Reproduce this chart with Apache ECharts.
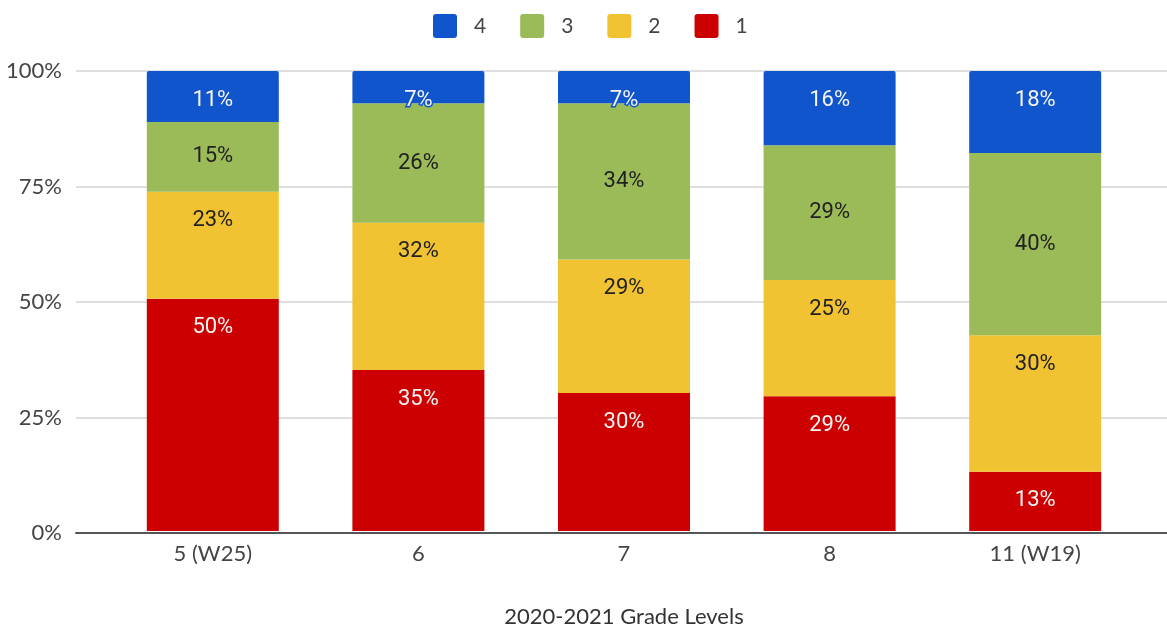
<!DOCTYPE html>
<html>
<head>
<meta charset="utf-8">
<title>2020-2021 Grade Levels</title>
<script src="https://cdn.jsdelivr.net/npm/echarts@6/dist/echarts.min.js"></script>
<style>
  html, body { margin: 0; padding: 0; background: #ffffff; }
  #chart { width: 1167px; height: 633px; }
</style>
</head>
<body>
<div id="chart"></div>
<script>
// Grade levels on the x axis
const categories = ['5 (W25)', '6', '7', '8', '11 (W19)'];

// Percent of students at each performance level, per grade
const level1 = [50, 35, 30, 29, 13];
const level2 = [23, 32, 29, 25, 30];
const level3 = [15, 26, 34, 29, 40];
const level4 = [11, 7, 7, 16, 18];

// Percent axis ticks
const yTicks = [0, 25, 50, 75, 100];

const levels = [
  { name: '1', data: level1, color: '#cc0000', text: '#f4f4f4', pos: 'insideTop' },
  { name: '2', data: level2, color: '#f1c232', text: '#222222', pos: 'insideTop' },
  { name: '3', data: level3, color: '#9bbb59', text: '#222222', pos: 'inside' },
  { name: '4', data: level4, color: '#1155cc', text: '#f4f4f4', pos: 'insideTop' }
];

// Each column is stacked to 100%: scale every level by the column total
const totals = categories.map((_, i) =>
  levels.reduce((s, l) => s + l.data[i], 0));

const axisFont = 'Lato, "Open Sans", sans-serif';

// Small square with softly rounded corners for the legend keys
const keyIcon = 'path://M3,0 H21 Q24,0 24,3 V21 Q24,24 21,24 H3 Q0,24 0,21 V3 Q0,0 3,0 Z';

const series = levels.map((l, k) => ({
  name: l.name,
  type: 'bar',
  stack: 'share',
  xAxisIndex: 1,
  yAxisIndex: 1,
  barWidth: 132,
  itemStyle: {
    color: l.color,
    borderRadius: k === levels.length - 1 ? [2, 2, 0, 0] : 0
  },
  label: {
    show: true,
    position: l.pos,
    distance: 18,
    color: l.text,
    fontFamily: 'Roboto, sans-serif',
    fontSize: 22,
    lineHeight: 22,
    textBorderColor: k === levels.length - 1 ? l.color : 'transparent',
    textBorderWidth: k === levels.length - 1 ? 3 : 0,
    formatter: p => l.data[p.dataIndex] + '%'
  },
  emphasis: { disabled: true },
  data: l.data.map((v, i) => v / totals[i] * 100)
}));

const chart = echarts.init(document.getElementById('chart'), null, { renderer: 'canvas' });

chart.setOption({
  animation: false,
  backgroundColor: '#ffffff',
  legend: {
    data: ['4', '3', '2', '1'],
    top: 9,
    left: 428,
    itemWidth: 24,
    itemHeight: 24,
    itemGap: 34,
    icon: keyIcon,
    textStyle: {
      fontFamily: axisFont,
      fontSize: 21,
      color: '#444444',
      padding: [0, 0, 0, 12]
    }
  },
  grid: [
    // full-width frame for gridlines and baseline
    { left: 76, right: 0, top: 71, bottom: 100 },
    // inner frame holding the bars
    { left: 110, right: 29, top: 71, bottom: 100 }
  ],
  xAxis: [
    {
      type: 'value',
      gridIndex: 0,
      min: 0,
      max: 1,
      axisLine: { show: true, onZero: false, lineStyle: { color: '#555555', width: 2 } },
      axisTick: { show: false },
      axisLabel: { show: false },
      splitLine: { show: false }
    },
    {
      type: 'category',
      gridIndex: 1,
      data: categories,
      name: '2020-2021 Grade Levels',
      nameLocation: 'middle',
      nameGap: 75,
      nameTextStyle: { fontFamily: axisFont, fontSize: 22, color: '#333333' },
      axisLine: { show: false },
      axisTick: { show: false },
      axisLabel: { fontFamily: axisFont, fontSize: 22, color: '#444444', margin: 12 }
    }
  ],
  yAxis: [
    {
      type: 'value',
      gridIndex: 0,
      min: yTicks[0],
      max: yTicks[yTicks.length - 1],
      interval: yTicks[1] - yTicks[0],
      axisLine: { show: false },
      axisTick: { show: false },
      axisLabel: {
        fontFamily: axisFont,
        fontSize: 22,
        color: '#444444',
        margin: 14,
        formatter: v => v + '%'
      },
      splitLine: { lineStyle: { color: '#d4d4d4', width: 1.5 } }
    },
    {
      type: 'value',
      gridIndex: 1,
      min: yTicks[0],
      max: yTicks[yTicks.length - 1],
      show: false
    }
  ],
  series: series
});
</script>
</body>
</html>
